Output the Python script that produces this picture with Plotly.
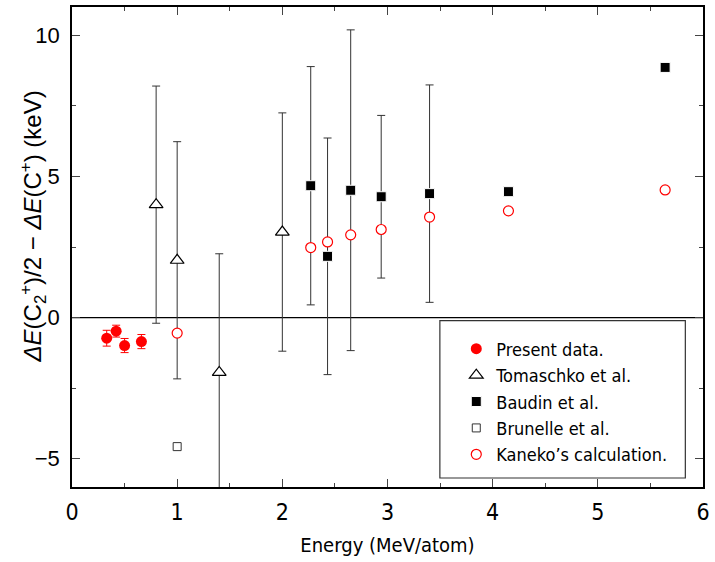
import plotly.graph_objects as go

# ---- data ----
present_x = [0.33, 0.42, 0.50, 0.66]
present_y = [-0.73, -0.48, -0.99, -0.85]
present_err = [0.28, 0.21, 0.25, 0.25]

toma_x = [0.80, 1.00, 1.40, 2.00]
toma_y = [4.00, 2.03, -1.94, 3.03]
toma_err = [4.20, 4.20, 4.20, 4.22]

baudin_x = [2.27, 2.43, 2.65, 2.94, 3.40, 4.15, 5.64]
baudin_y = [4.67, 2.17, 4.51, 4.28, 4.39, 4.46, 8.86]
baudin_err = [4.22, 4.19, 5.68, 2.88, 3.85, 0.0, 0.0]

brunelle_x = [1.00]
brunelle_y = [-4.57]

kaneko_x = [1.00, 2.27, 2.43, 2.65, 2.94, 3.40, 4.15, 5.64]
kaneko_y = [-0.55, 2.48, 2.68, 2.93, 3.12, 3.56, 3.78, 4.52]

y_title = "<i>\u0394E</i>(C<sub>2</sub><sup>+</sup>)/2 \u2212 <i>\u0394E</i>(C<sup>+</sup>) (keV)"
x_title = "Energy (MeV/atom)"

NARROW = "DejaVu Sans Condensed, Liberation Sans Narrow, Liberation Sans, sans-serif"
SANS = "Liberation Sans, Arial, sans-serif"

fig = go.Figure()

fig.add_trace(go.Scatter(
    x=baudin_x, y=baudin_y, mode="markers", name="Baudin et al.",
    legendgroup="c", legendrank=3,
    marker=dict(symbol="square", size=10, color="black", line=dict(color="white", width=1)),
    error_y=dict(type="data", array=baudin_err, visible=True, color="#333333", thickness=1, width=4),
))
fig.add_trace(go.Scatter(
    x=toma_x, y=toma_y, mode="markers", name="Tomaschko et al.",
    legendgroup="b", legendrank=2,
    marker=dict(symbol="triangle-up", size=12, color="white", line=dict(color="black", width=1.2)),
    error_y=dict(type="data", array=toma_err, visible=True, color="#333333", thickness=1, width=4),
))
fig.add_trace(go.Scatter(
    x=brunelle_x, y=brunelle_y, mode="markers", name="Brunelle et al.",
    legendgroup="d", legendrank=4,
    marker=dict(symbol="square", size=8, color="white", line=dict(color="#333333", width=1)),
))
fig.add_trace(go.Scatter(
    x=kaneko_x, y=kaneko_y, mode="markers", name="Kaneko\u2019s calculation.",
    legendgroup="e", legendrank=5,
    marker=dict(symbol="circle", size=10, color="white", line=dict(color="red", width=1.2)),
))
fig.add_trace(go.Scatter(
    x=present_x, y=present_y, mode="markers", name="Present data.",
    legendgroup="a", legendrank=1,
    marker=dict(symbol="circle", size=11, color="red", line=dict(color="red", width=0)),
    error_y=dict(type="data", array=present_err, visible=True, color="red", thickness=1, width=4),
))

# zero line
fig.add_shape(type="line", xref="paper", x0=0, x1=1, yref="y", y0=0, y1=0,
              line=dict(color="black", width=1.2), layer="below")
# legend box
fig.add_shape(type="rect", xref="paper", yref="paper", x0=0.583, x1=0.972, y0=0.0187, y1=0.3465,
              line=dict(color="#333333", width=1.2), fillcolor="white", layer="above")

# y-axis title (placed as rotated annotation to match the reference position)
fig.add_annotation(text=y_title, xref="paper", yref="paper", x=-0.0611, y=0.5436,
                   xanchor="center", yanchor="middle", textangle=-90, showarrow=False,
                   font=dict(family=SANS, size=24, color="black"))

fig.update_layout(
    width=715, height=562,
    margin=dict(l=72, r=5, t=5, b=75),
    plot_bgcolor="white", paper_bgcolor="white",
    showlegend=True,
    legend=dict(x=0.609, y=0.326, xanchor="left", yanchor="top",
                bgcolor="rgba(0,0,0,0)", borderwidth=0,
                font=dict(family=NARROW, size=18, color="black"),
                tracegroupgap=0, itemwidth=30),
    xaxis=dict(range=[0, 6], dtick=1, tick0=0, ticks="inside", ticklen=8, tickwidth=1,
               showline=True, linecolor="black", linewidth=1.5, mirror="ticks",
               showgrid=False, zeroline=False,
               minor=dict(dtick=0.5, ticks="inside", ticklen=4, tickwidth=1, showgrid=False),
               tickfont=dict(family=NARROW, size=23, color="black"),
               ticklabelstandoff=4,
               title=dict(text=x_title, font=dict(family=NARROW, size=20, color="black"),
                          standoff=14)),
    yaxis=dict(range=[-6, 11], dtick=5, tick0=0, ticks="inside", ticklen=8, tickwidth=1,
               showline=True, linecolor="black", linewidth=1.5, mirror="ticks",
               showgrid=False, zeroline=False,
               minor=dict(dtick=2.5, ticks="inside", ticklen=4, tickwidth=1, showgrid=False),
               tickfont=dict(family=SANS, size=22, color="black"),
               ticklabelstandoff=6),
)

fig.write_html("out.html")
